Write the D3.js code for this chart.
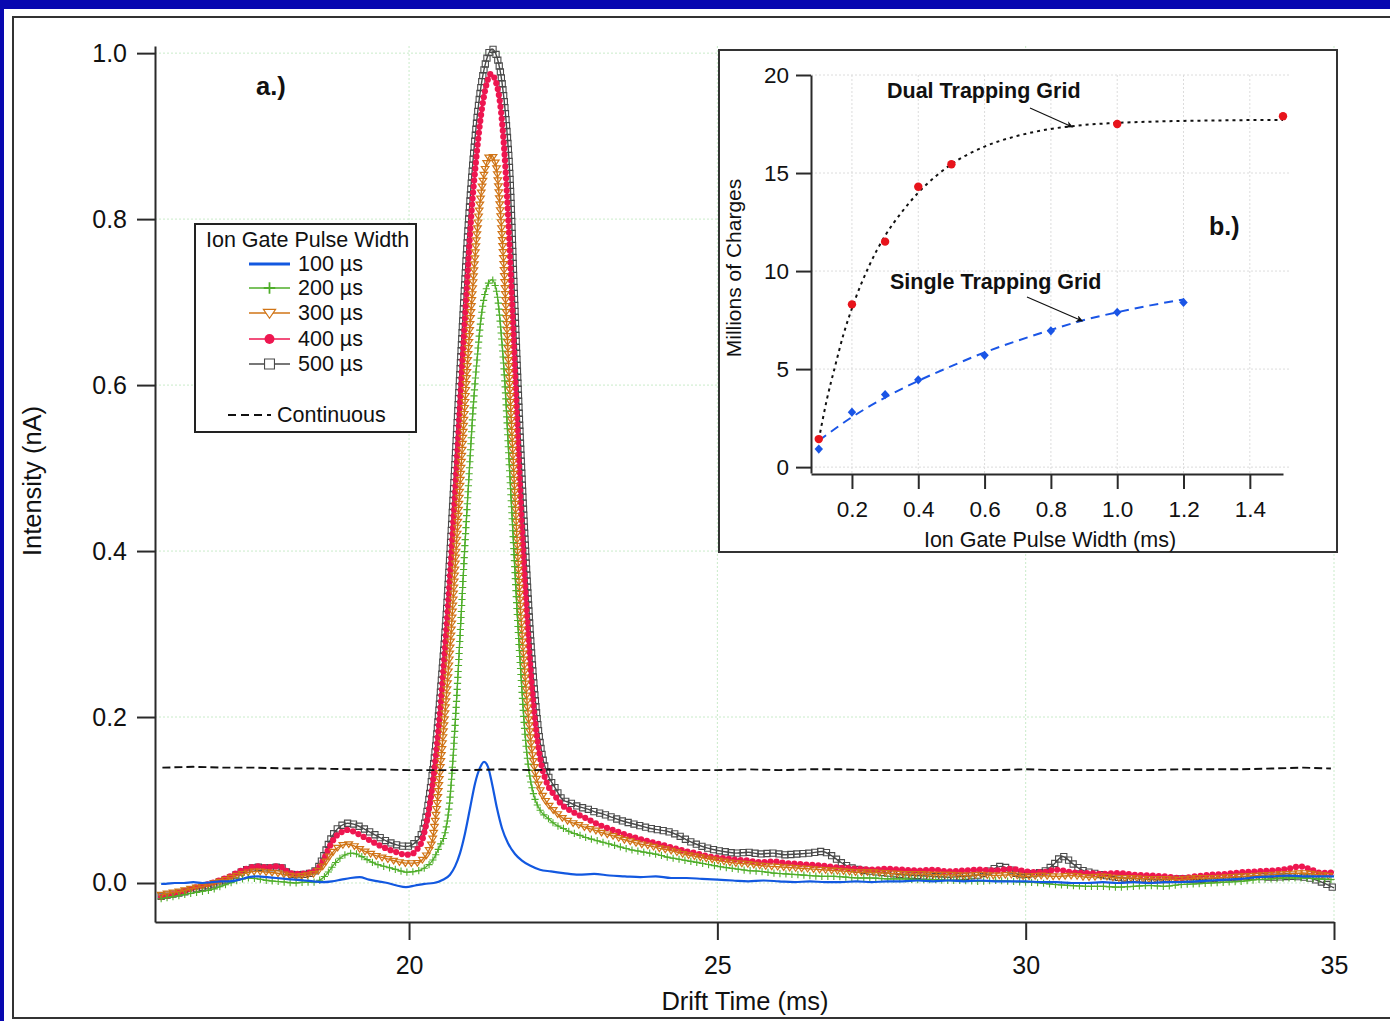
<!DOCTYPE html>
<html>
<head>
<meta charset="utf-8">
<script src="https://cdn.jsdelivr.net/npm/d3@7"></script>
<style>
  body { margin: 0; background: #ffffff; }
  svg { display: block; }
  text { font-family: "Liberation Sans", Arial, Helvetica, sans-serif; fill: #111; }
</style>
</head>
<body>
<svg id="chart" width="1390" height="1021"></svg>
<script>
// ---------- Panel a: ion current vs drift time, [drift time (ms), intensity (nA)] ----------
const pulse500 = [
  [15.98,-0.016],[16.05,-0.015],[16.2,-0.013],[16.35,-0.011],[16.5,-0.008],[16.65,-0.005],[16.8,-0.002],[16.95,0.002],
  [17.1,0.006],[17.25,0.012],[17.4,0.017],[17.55,0.019],[17.7,0.018],[17.85,0.019],[17.95,0.018],[18.05,0.011],
  [18.2,0.010],[18.35,0.011],[18.5,0.016],[18.6,0.030],[18.7,0.048],[18.8,0.062],[18.9,0.069],[19.0,0.072],
  [19.1,0.071],[19.2,0.068],[19.35,0.062],[19.5,0.056],[19.65,0.050],[19.8,0.046],[19.95,0.044],[20.05,0.046],
  [20.12,0.050],[20.178,0.055],[20.276,0.080],[20.357,0.120],[20.438,0.170],[20.519,0.240],[20.600,0.320],
  [20.681,0.420],[20.762,0.530],[20.843,0.640],[20.924,0.750],[21.005,0.840],[21.086,0.910],[21.167,0.960],
  [21.248,0.990],[21.345,1.005],[21.426,0.995],[21.507,0.965],[21.572,0.920],[21.637,0.850],[21.702,0.720],
  [21.767,0.600],[21.831,0.490],[21.912,0.370],[21.994,0.270],[22.075,0.200],[22.156,0.155],[22.253,0.130],
  [22.366,0.115],[22.496,0.100],[22.6,0.097],[22.75,0.092],[22.9,0.089],[23.0,0.086],[23.15,0.083],[23.3,0.079],
  [23.45,0.075],[23.6,0.072],[23.75,0.069],[23.9,0.066],[24.05,0.064],[24.2,0.062],[24.35,0.058],[24.5,0.052],
  [24.65,0.047],[24.8,0.043],[24.95,0.040],[25.1,0.038],[25.3,0.036],[25.5,0.037],[25.7,0.035],[25.9,0.036],
  [26.1,0.034],[26.3,0.035],[26.5,0.036],[26.7,0.038],[26.85,0.033],[27.0,0.025],[27.15,0.019],[27.3,0.016],
  [27.5,0.014],[27.75,0.012],[28.0,0.010],[28.25,0.009],[28.5,0.008],[28.75,0.007],[29.0,0.008],[29.25,0.010],
  [29.45,0.016],[29.6,0.020],[29.75,0.016],[29.9,0.010],[30.1,0.011],[30.3,0.014],[30.45,0.022],[30.6,0.032],
  [30.75,0.024],[30.9,0.016],[31.1,0.012],[31.3,0.009],[31.6,0.006],[31.9,0.005],[32.2,0.004],[32.5,0.005],
  [32.8,0.004],[33.1,0.006],[33.4,0.007],[33.7,0.008],[34.0,0.007],[34.3,0.008],[34.6,0.006],[34.8,0.001],[35.0,-0.006]
];
const pulse400 = [
  [15.98,-0.017],[16.05,-0.016],[16.2,-0.013],[16.35,-0.010],[16.5,-0.006],[16.65,-0.003],[16.8,0.000],[16.95,0.004],
  [17.1,0.008],[17.25,0.014],[17.4,0.018],[17.55,0.020],[17.7,0.019],[17.85,0.020],[17.95,0.019],[18.05,0.012],
  [18.2,0.011],[18.35,0.012],[18.5,0.016],[18.6,0.026],[18.7,0.042],[18.8,0.055],[18.9,0.061],[19.0,0.064],
  [19.1,0.062],[19.2,0.058],[19.35,0.052],[19.5,0.046],[19.65,0.041],[19.8,0.037],[19.95,0.034],[20.05,0.035],
  [20.12,0.040],[20.178,0.045],[20.276,0.070],[20.357,0.105],[20.438,0.155],[20.519,0.220],[20.600,0.300],
  [20.681,0.390],[20.762,0.490],[20.843,0.600],[20.924,0.700],[21.005,0.800],[21.086,0.870],[21.167,0.925],
  [21.248,0.960],[21.329,0.975],[21.410,0.965],[21.491,0.930],[21.556,0.870],[21.621,0.780],[21.686,0.670],
  [21.750,0.560],[21.815,0.450],[21.896,0.340],[21.977,0.250],[22.058,0.185],[22.139,0.145],[22.237,0.120],
  [22.366,0.105],[22.496,0.093],[22.6,0.088],[22.75,0.082],[22.9,0.077],[23.0,0.073],[23.15,0.068],[23.3,0.064],
  [23.45,0.060],[23.6,0.056],[23.75,0.053],[23.9,0.050],[24.05,0.047],[24.2,0.044],[24.35,0.041],[24.5,0.038],
  [24.65,0.036],[24.8,0.033],[24.95,0.031],[25.1,0.030],[25.3,0.028],[25.5,0.027],[25.7,0.025],[25.9,0.026],
  [26.1,0.024],[26.3,0.023],[26.5,0.022],[26.7,0.021],[26.9,0.019],[27.1,0.018],[27.3,0.017],[27.5,0.016],
  [27.75,0.017],[28.0,0.016],[28.25,0.015],[28.5,0.016],[28.75,0.014],[29.0,0.015],[29.25,0.016],[29.5,0.015],
  [29.75,0.017],[30.0,0.014],[30.25,0.013],[30.5,0.016],[30.75,0.013],[31.0,0.012],[31.25,0.011],[31.5,0.012],
  [31.75,0.010],[32.0,0.009],[32.25,0.008],[32.5,0.006],[32.75,0.008],[33.0,0.010],[33.25,0.011],[33.5,0.013],
  [33.75,0.014],[34.0,0.015],[34.25,0.017],[34.45,0.020],[34.6,0.017],[34.8,0.012],[35.0,0.013]
];
const pulse300 = [
  [15.98,-0.014],[16.05,-0.013],[16.2,-0.011],[16.35,-0.009],[16.5,-0.006],[16.65,-0.004],[16.8,-0.001],[16.95,0.002],
  [17.1,0.006],[17.25,0.010],[17.4,0.013],[17.55,0.014],[17.7,0.013],[17.85,0.012],[18.0,0.010],[18.15,0.008],
  [18.3,0.009],[18.45,0.011],[18.6,0.020],[18.7,0.031],[18.8,0.040],[18.9,0.045],[19.0,0.047],[19.1,0.045],
  [19.2,0.041],[19.35,0.036],[19.5,0.032],[19.65,0.029],[19.8,0.026],[19.95,0.024],[20.1,0.024],[20.2,0.027],
  [20.3,0.036],[20.389,0.056],[20.454,0.095],[20.519,0.150],[20.600,0.220],[20.681,0.300],[20.762,0.400],
  [20.843,0.500],[20.924,0.600],[21.005,0.690],[21.086,0.770],[21.167,0.830],[21.248,0.865],[21.329,0.877],
  [21.410,0.865],[21.475,0.815],[21.540,0.740],[21.605,0.640],[21.669,0.540],[21.734,0.440],[21.799,0.340],
  [21.880,0.250],[21.961,0.180],[22.042,0.135],[22.139,0.110],[22.253,0.095],[22.382,0.085],[22.496,0.078],
  [22.6,0.074],[22.75,0.070],[22.9,0.066],[23.0,0.064],[23.15,0.060],[23.3,0.057],[23.45,0.053],[23.6,0.050],
  [23.75,0.047],[23.9,0.045],[24.05,0.042],[24.2,0.040],[24.35,0.037],[24.5,0.034],[24.65,0.032],[24.8,0.030],
  [24.95,0.028],[25.1,0.026],[25.3,0.024],[25.5,0.023],[25.7,0.021],[25.9,0.020],[26.1,0.019],[26.3,0.018],
  [26.5,0.017],[26.7,0.016],[26.9,0.015],[27.1,0.014],[27.3,0.013],[27.5,0.013],[27.75,0.012],[28.0,0.011],
  [28.25,0.011],[28.5,0.010],[28.75,0.010],[29.0,0.009],[29.25,0.010],[29.5,0.009],[29.75,0.010],[30.0,0.008],
  [30.25,0.009],[30.5,0.008],[30.75,0.009],[31.0,0.007],[31.25,0.008],[31.5,0.006],[31.75,0.006],[32.0,0.005],
  [32.25,0.005],[32.5,0.004],[32.75,0.006],[33.0,0.006],[33.25,0.007],[33.5,0.008],[33.75,0.009],[34.0,0.010],
  [34.25,0.011],[34.5,0.012],[34.75,0.010],[35.0,0.008]
];
const pulse200 = [
  [15.98,-0.019],[16.05,-0.018],[16.2,-0.016],[16.35,-0.014],[16.5,-0.012],[16.65,-0.010],[16.8,-0.008],[16.95,-0.004],
  [17.1,0.000],[17.25,0.004],[17.4,0.006],[17.55,0.005],[17.7,0.003],[17.85,0.002],[18.0,0.001],[18.15,0.000],
  [18.3,0.001],[18.45,0.001],[18.6,0.006],[18.7,0.014],[18.8,0.024],[18.9,0.031],[19.0,0.035],[19.1,0.036],
  [19.2,0.033],[19.35,0.027],[19.5,0.022],[19.65,0.019],[19.8,0.016],[19.95,0.013],[20.1,0.014],[20.25,0.018],
  [20.39,0.028],[20.5,0.045],[20.583,0.060],[20.648,0.090],[20.713,0.150],[20.778,0.230],[20.843,0.320],
  [20.908,0.410],[20.972,0.490],[21.037,0.570],[21.102,0.630],[21.167,0.680],[21.248,0.715],[21.345,0.727],
  [21.426,0.710],[21.491,0.665],[21.556,0.600],[21.621,0.510],[21.686,0.420],[21.750,0.330],[21.815,0.250],
  [21.880,0.180],[21.945,0.135],[22.026,0.105],[22.123,0.088],[22.253,0.078],[22.382,0.070],[22.496,0.066],
  [22.6,0.062],[22.75,0.058],[22.9,0.054],[23.0,0.052],[23.15,0.049],[23.3,0.046],[23.45,0.043],[23.6,0.040],
  [23.75,0.038],[23.9,0.036],[24.05,0.034],[24.2,0.031],[24.35,0.029],[24.5,0.027],[24.65,0.025],[24.8,0.023],
  [24.95,0.021],[25.1,0.019],[25.3,0.017],[25.5,0.015],[25.7,0.014],[25.9,0.012],[26.1,0.011],[26.3,0.010],
  [26.5,0.009],[26.7,0.008],[26.9,0.008],[27.1,0.007],[27.3,0.006],[27.5,0.006],[27.75,0.005],[28.0,0.005],
  [28.25,0.004],[28.5,0.004],[28.75,0.003],[29.0,0.003],[29.25,0.002],[29.5,0.003],[29.75,0.002],[30.0,0.001],
  [30.25,0.000],[30.5,-0.002],[30.75,-0.003],[31.0,-0.004],[31.25,-0.004],[31.5,-0.005],[31.75,-0.004],[32.0,-0.003],
  [32.25,-0.004],[32.5,-0.002],[32.75,-0.001],[33.0,0.000],[33.25,0.001],[33.5,0.002],[33.75,0.004],[34.0,0.005],
  [34.25,0.006],[34.5,0.006],[34.75,0.005],[35.0,0.004]
];
const pulse100 = [
  [15.98,-0.001],[16.05,-0.001],[16.2,0.000],[16.35,0.000],[16.5,0.001],[16.65,0.000],[16.8,0.001],[16.95,0.002],
  [17.1,0.002],[17.25,0.004],[17.4,0.007],[17.55,0.008],[17.7,0.007],[17.85,0.006],[18.0,0.005],[18.15,0.004],
  [18.3,0.003],[18.45,0.002],[18.6,0.001],[18.75,0.002],[18.9,0.004],[19.05,0.006],[19.2,0.007],[19.35,0.004],
  [19.5,0.002],[19.65,0.000],[19.8,-0.003],[19.95,-0.005],[20.1,-0.003],[20.25,-0.001],[20.4,0.000],[20.55,0.004],
  [20.664,0.010],[20.746,0.020],[20.827,0.036],[20.908,0.060],[20.989,0.090],[21.070,0.120],[21.151,0.139],
  [21.216,0.146],[21.280,0.140],[21.345,0.120],[21.426,0.090],[21.507,0.066],[21.605,0.048],[21.718,0.035],
  [21.831,0.027],[21.961,0.021],[22.123,0.016],[22.3,0.014],[22.5,0.012],[22.75,0.010],[23.0,0.011],[23.25,0.009],
  [23.5,0.008],[23.75,0.007],[24.0,0.008],[24.25,0.006],[24.5,0.006],[24.75,0.005],[25.0,0.004],[25.25,0.003],
  [25.5,0.002],[25.75,0.003],[26.0,0.002],[26.25,0.001],[26.5,0.002],[26.75,0.001],[27.0,0.001],[27.25,0.002],
  [27.5,0.001],[27.75,0.002],[28.0,0.002],[28.25,0.003],[28.5,0.002],[28.75,0.003],[29.0,0.002],[29.25,0.003],
  [29.5,0.002],[29.75,0.002],[30.0,0.002],[30.25,0.001],[30.5,0.001],[30.75,0.000],[31.0,0.000],[31.25,0.001],
  [31.5,0.000],[31.75,0.001],[32.0,0.000],[32.25,0.001],[32.5,0.001],[32.75,0.002],[33.0,0.003],[33.25,0.004],
  [33.5,0.005],[33.75,0.007],[34.0,0.008],[34.25,0.009],[34.5,0.008],[34.75,0.008],[35.0,0.008]
];
const continuousBeam = [
  [16.0,0.139],[16.5,0.140],[17.0,0.139],[17.5,0.139],[18.0,0.138],[18.5,0.138],[19.0,0.137],[19.5,0.137],
  [20.0,0.136],[20.5,0.136],[21.0,0.136],[21.5,0.137],[22.0,0.136],[22.5,0.137],[23.0,0.137],[23.5,0.136],
  [24.0,0.136],[24.5,0.136],[25.0,0.136],[25.5,0.137],[26.0,0.136],[26.5,0.137],[27.0,0.137],[27.5,0.136],
  [28.0,0.136],[28.5,0.136],[29.0,0.136],[29.5,0.136],[30.0,0.137],[30.5,0.136],[31.0,0.136],[31.5,0.136],
  [32.0,0.136],[32.5,0.137],[33.0,0.137],[33.5,0.137],[34.0,0.138],[34.5,0.139],[34.95,0.138]
];
const mainXTicks = [20, 25, 30, 35];
const mainYTicks = [0.0, 0.2, 0.4, 0.6, 0.8, 1.0];
const legendLabels = ["100 µs", "200 µs", "300 µs", "400 µs", "500 µs"];

// ---------- Panel b: charges vs ion gate pulse width ----------
const dualWidth   = [0.1, 0.2, 0.3, 0.4, 0.5, 1.0, 1.5];
const dualCharges = [1.43, 8.3, 11.5, 14.3, 15.45, 17.5, 17.9];
const dualFitWidth   = [0.1, 0.125, 0.15, 0.175, 0.2, 0.25, 0.3, 0.35, 0.4, 0.45, 0.5, 0.6, 0.7, 0.8, 0.9, 1.0, 1.1, 1.2, 1.3, 1.4, 1.5];
const dualFitCharges = [1.4, 3.5, 5.2, 6.8, 8.1, 10.2, 11.8, 13.0, 14.0, 14.8, 15.45, 16.35, 16.9, 17.25, 17.45, 17.56, 17.62, 17.66, 17.68, 17.7, 17.7];
const singleWidth   = [0.1, 0.2, 0.3, 0.4, 0.6, 0.8, 1.0, 1.2];
const singleCharges = [0.92, 2.8, 3.7, 4.45, 5.7, 6.95, 7.9, 8.4];
const singleFitWidth   = [0.1, 0.2, 0.3, 0.4, 0.5, 0.6, 0.7, 0.8, 0.9, 1.0, 1.1, 1.2];
const singleFitCharges = [1.35, 2.55, 3.55, 4.4, 5.15, 5.85, 6.45, 7.0, 7.5, 7.9, 8.25, 8.55];
const insetXTicks = [0.2, 0.4, 0.6, 0.8, 1.0, 1.2, 1.4];
const insetYTicks = [0, 5, 10, 15, 20];

// ---------- page ----------
const svg = d3.select("#chart");
svg.append("rect").attr("width", 1390).attr("height", 1021).attr("fill", "#0808b0");
svg.append("rect").attr("x", 4).attr("y", 9).attr("width", 1386).attr("height", 1012).attr("fill", "#ffffff");
svg.append("rect").attr("x", 13).attr("y", 17).attr("width", 1400).attr("height", 1001)
  .attr("fill", "none").attr("stroke", "#333").attr("stroke-width", 2);

const AXIS = "#2a2a2a";
const FONT = '"Liberation Sans", Arial, sans-serif';
const x = d3.scaleLinear().domain([15.88, 35]).range([155, 1334]);
const y = d3.scaleLinear().domain([-0.047, 1.0086]).range([922, 46]);

// grid
const grid = svg.append("g").attr("stroke", "#c9ebc9").attr("stroke-width", 1).attr("stroke-dasharray", "2,2");
grid.selectAll(".gy").data(mainYTicks).join("line")
  .attr("x1", 155).attr("x2", 1334).attr("y1", d => y(d)).attr("y2", d => y(d));
grid.selectAll(".gx").data(mainXTicks).join("line")
  .attr("x1", d => x(d)).attr("x2", d => x(d)).attr("y1", 46).attr("y2", 922);

// axes
const axL = svg.append("g").attr("transform", "translate(155,0)")
  .call(d3.axisLeft(y).tickValues(mainYTicks).tickFormat(d3.format(".1f")).tickSize(18).tickSizeOuter(0).tickPadding(10));
const axB = svg.append("g").attr("transform", "translate(0,922)")
  .call(d3.axisBottom(x).tickValues(mainXTicks).tickFormat(d3.format("d")).tickSize(18).tickSizeOuter(0).tickPadding(16));
[axL, axB].forEach(a => {
  a.selectAll("path, line").attr("stroke", AXIS).attr("stroke-width", 2);
  a.selectAll("text").attr("font-size", 25).attr("fill", "#111").style("font-family", FONT);
});
svg.append("text").attr("transform", "translate(41,481) rotate(-90)").attr("text-anchor", "middle")
  .attr("font-size", 25.5).text("Intensity (nA)");
svg.append("text").attr("x", 745).attr("y", 1010).attr("text-anchor", "middle")
  .attr("font-size", 25.5).text("Drift Time (ms)");
svg.append("text").attr("x", 256).attr("y", 95).attr("font-size", 25.5).attr("font-weight", "bold").text("a.)");

// markers
const symPlus = "M-3.6,0H3.6M0,-3.6V3.6";
const symTri = s => `M0,${s} L${-s * 1.15},${-s * 0.7} L${s * 1.15},${-s * 0.7} Z`;
const symSquare = s => `M${-s},${-s}H${s}V${s}H${-s}Z`;

const series = [
  { data: pulse500, color: "#4a4a4a", width: 1.4, marker: "square" },
  { data: pulse400, color: "#ee1650", width: 1.4, marker: "circle" },
  { data: pulse300, color: "#d07416", width: 1.4, marker: "tri" },
  { data: pulse200, color: "#4fae2a", width: 1.3, marker: "plus" },
  { data: pulse100, color: "#1258e0", width: 2.2, marker: null }
];

const line = d3.line().x(d => x(d[0])).y(d => y(d[1])).curve(d3.curveMonotoneX);

function drawMarker(g, kind, color, px, py, big) {
  const s = big ? 1.6 : 1;
  if (kind === "square") {
    g.append("path").attr("d", symSquare(3.1 * s)).attr("transform", `translate(${px},${py})`)
      .attr("fill", big ? "#fff" : "none").attr("stroke", color).attr("stroke-width", 1.1);
  } else if (kind === "circle") {
    g.append("circle").attr("cx", px).attr("cy", py).attr("r", 3.1 * s).attr("fill", color);
  } else if (kind === "tri") {
    g.append("path").attr("d", symTri(3.3 * s)).attr("transform", `translate(${px},${py})`)
      .attr("fill", big ? "#fff" : "none").attr("stroke", color).attr("stroke-width", 1.2);
  } else if (kind === "plus") {
    g.append("path").attr("d", symPlus).attr("transform", `translate(${px},${py}) scale(${s})`)
      .attr("fill", "none").attr("stroke", color).attr("stroke-width", 1.1);
  }
}

const traces = svg.append("g");
series.forEach(s => {
  const g = traces.append("g");
  const p = g.append("path").datum(s.data).attr("d", line)
    .attr("fill", "none").attr("stroke", s.color).attr("stroke-width", s.width).attr("stroke-linejoin", "round");
  if (s.marker) {
    const node = p.node();
    const L = node.getTotalLength();
    const step = 6;
    for (let l = 0; l <= L; l += step) {
      const pt = node.getPointAtLength(l);
      drawMarker(g, s.marker, s.color, pt.x, pt.y, false);
    }
  }
});

// continuous beam reference
svg.append("path").datum(continuousBeam).attr("d", d3.line().x(d => x(d[0])).y(d => y(d[1])))
  .attr("fill", "none").attr("stroke", "#111").attr("stroke-width", 1.9).attr("stroke-dasharray", "8,4");

// legend
const lg = svg.append("g");
lg.append("rect").attr("x", 195).attr("y", 224).attr("width", 221).attr("height", 208)
  .attr("fill", "#fff").attr("stroke", "#222").attr("stroke-width", 2);
lg.append("text").attr("x", 206).attr("y", 247).attr("font-size", 21.5).text("Ion Gate Pulse Width");
const rowY = [264, 288, 313, 339, 364];
const legendOrder = [4, 3, 2, 1, 0];
legendLabels.forEach((lab, i) => {
  const s = series[legendOrder[i]];
  const ry = rowY[i];
  lg.append("line").attr("x1", 249).attr("x2", 290).attr("y1", ry).attr("y2", ry)
    .attr("stroke", s.color).attr("stroke-width", s.marker ? 1.6 : 2.8);
  if (s.marker) drawMarker(lg, s.marker, s.color, 269.5, ry, true);
  lg.append("text").attr("x", 298).attr("y", ry + 7).attr("font-size", 21.5).text(lab);
});
lg.append("line").attr("x1", 228).attr("x2", 271).attr("y1", 415).attr("y2", 415)
  .attr("stroke", "#111").attr("stroke-width", 2).attr("stroke-dasharray", "8,5");
lg.append("text").attr("x", 277).attr("y", 422).attr("font-size", 21.5).text("Continuous");

// ---------- inset ----------
const inset = svg.append("g");
inset.append("rect").attr("x", 719).attr("y", 50).attr("width", 618).attr("height", 502)
  .attr("fill", "#fff").attr("stroke", "#333").attr("stroke-width", 2);
const xi = d3.scaleLinear().domain([0.0765, 1.5]).range([811, 1283]);
const yi = d3.scaleLinear().domain([-0.3, 20]).range([473, 75]);

const ig = inset.append("g").attr("stroke", "#dcdcdc").attr("stroke-width", 1).attr("stroke-dasharray", "2,2");
ig.selectAll(".a").data(insetXTicks).join("line")
  .attr("x1", d => xi(d)).attr("x2", d => xi(d)).attr("y1", 75).attr("y2", 473);
ig.selectAll(".b").data(insetYTicks).join("line")
  .attr("x1", 811).attr("x2", 1290).attr("y1", d => yi(d)).attr("y2", d => yi(d));

const iaL = inset.append("g").attr("transform", "translate(811,0)")
  .call(d3.axisLeft(yi).tickValues(insetYTicks).tickFormat(d3.format("d")).tickSize(15).tickSizeOuter(0).tickPadding(7));
const iaB = inset.append("g").attr("transform", "translate(0,474)")
  .call(d3.axisBottom(xi).tickValues(insetXTicks).tickFormat(d3.format(".1f")).tickSize(15).tickSizeOuter(0).tickPadding(12));
[iaL, iaB].forEach(a => {
  a.selectAll("path, line").attr("stroke", AXIS).attr("stroke-width", 2);
  a.selectAll("text").attr("font-size", 22.5).attr("fill", "#111").style("font-family", FONT);
});
inset.append("text").attr("transform", "translate(741,268) rotate(-90)").attr("text-anchor", "middle")
  .attr("font-size", 21).text("Millions of Charges");
inset.append("text").attr("x", 1050).attr("y", 547).attr("text-anchor", "middle")
  .attr("font-size", 21.5).text("Ion Gate Pulse Width (ms)");

const fitLine = d3.line().x(d => xi(d[0])).y(d => yi(d[1])).curve(d3.curveMonotoneX);
inset.append("path").datum(dualFitWidth.map((w, i) => [w, dualFitCharges[i]])).attr("d", fitLine)
  .attr("fill", "none").attr("stroke", "#111").attr("stroke-width", 2).attr("stroke-dasharray", "3,4");
inset.append("path").datum(singleFitWidth.map((w, i) => [w, singleFitCharges[i]])).attr("d", fitLine)
  .attr("fill", "none").attr("stroke", "#1a55e6").attr("stroke-width", 2).attr("stroke-dasharray", "9,6");

inset.selectAll(".dual").data(dualWidth.map((w, i) => [w, dualCharges[i]])).join("circle")
  .attr("cx", d => xi(d[0])).attr("cy", d => yi(d[1])).attr("r", 4.2).attr("fill", "#e8141c");
inset.selectAll(".single").data(singleWidth.map((w, i) => [w, singleCharges[i]])).join("path")
  .attr("d", "M0,-4.6L4.2,0L0,4.6L-4.2,0Z")
  .attr("transform", d => `translate(${xi(d[0])},${yi(d[1])})`).attr("fill", "#1a55e6");

// annotations
const defs = svg.append("defs");
defs.append("marker").attr("id", "arrowhead").attr("viewBox", "0 0 10 10").attr("refX", 9).attr("refY", 5)
  .attr("markerWidth", 9).attr("markerHeight", 7).attr("orient", "auto").attr("markerUnits", "userSpaceOnUse")
  .append("path").attr("d", "M0,0L10,5L0,10L3,5Z").attr("fill", "#111");
inset.append("text").attr("x", 887).attr("y", 98).attr("font-size", 21.5).attr("font-weight", "bold").text("Dual Trapping Grid");
inset.append("line").attr("x1", 1030).attr("y1", 108).attr("x2", xi(0.865)).attr("y2", yi(17.35))
  .attr("stroke", "#111").attr("stroke-width", 1.2).attr("marker-end", "url(#arrowhead)");
inset.append("text").attr("x", 890).attr("y", 289).attr("font-size", 21.5).attr("font-weight", "bold").text("Single Trapping Grid");
inset.append("line").attr("x1", 1027).attr("y1", 297).attr("x2", xi(0.895)).attr("y2", yi(7.45))
  .attr("stroke", "#111").attr("stroke-width", 1.2).attr("marker-end", "url(#arrowhead)");
inset.append("text").attr("x", 1209).attr("y", 235).attr("font-size", 25).attr("font-weight", "bold").text("b.)");
</script>
</body>
</html>
